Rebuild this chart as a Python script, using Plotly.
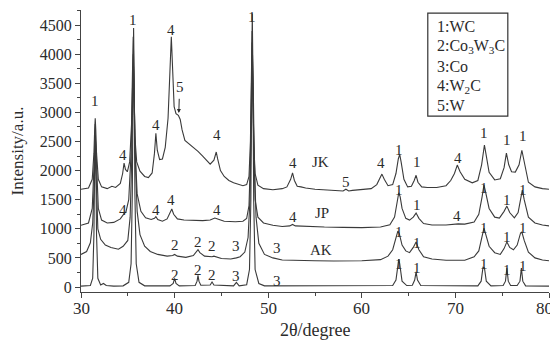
import plotly.graph_objects as go

# ---------------- data ----------------
base_x = [30, 31.0, 31.25, 31.38, 31.46, 31.52, 31.58, 31.66, 31.8, 32.1, 32.4, 32.7, 33.5, 34.5, 35.1, 35.35, 35.48,
          35.56, 35.62, 35.68, 35.76, 35.9, 36.2, 36.8, 39.5, 39.85, 40.0, 40.15, 40.5, 42.2, 42.4, 42.5, 42.6, 42.8,
          43.8, 44.0, 44.2, 46.3, 46.6, 46.9, 47.7, 48.0, 48.15, 48.24, 48.3, 48.36, 48.45, 48.6, 49.0, 49.6, 60,
          63.3, 63.65, 63.85, 63.95, 64.05, 64.3, 64.8, 65.4, 65.65, 65.8, 65.95, 66.3, 72.4, 72.75, 72.95, 73.1,
          73.3, 73.8, 75.1, 75.35, 75.5, 75.65, 75.9, 76.6, 76.9, 77.05, 77.2, 77.5, 80]
base_y = [15, 25, 150, 900, 2200, 2800, 2200, 900, 150, 35, 60, 25, 15, 20, 80, 400, 1600,
          3600, 4450, 3600, 1600, 400, 80, 20, 20, 60, 150, 60, 20, 25, 100, 200, 100, 30,
          35, 85, 35, 20, 80, 20, 40, 300, 1500, 3800, 4700, 3800, 1500, 300, 60, 20, 15,
          25, 120, 400, 480, 400, 100, 25, 30, 120, 260, 120, 25, 20, 100, 340, 330,
          100, 20, 25, 100, 325, 100, 25, 25, 100, 325, 100, 20, 15]

ak_x = [30, 30.6, 31.0, 31.25, 31.4, 31.47, 31.52, 31.58, 31.66, 31.8, 32.1, 32.6, 33.2, 34.0, 34.5, 35.0, 35.25,
        35.42, 35.52, 35.6, 35.68, 35.8, 36.0, 36.3, 36.8, 37.4, 38.2, 39.2, 39.8, 40.0, 40.3, 41.2, 42.0, 42.35,
        42.5, 42.7, 43.2, 44.0, 44.2, 45, 46.0, 46.6, 47.0, 47.5, 47.85, 48.05, 48.17, 48.26, 48.32, 48.4, 48.5,
        48.7, 49.0, 49.6, 50.5, 51.5, 53, 55, 57, 60, 62, 62.8, 63.3, 63.6, 63.85, 64.0, 64.3, 64.7, 65.1, 65.5,
        65.8, 66.1, 66.6, 67.5, 69, 71, 72, 72.5, 72.85, 73.05, 73.25, 73.6, 74.2, 74.8, 75.2, 75.5, 75.8, 76.2,
        76.6, 76.95, 77.1, 77.35, 77.8, 78.5, 79.3, 80]
ak_y = [560, 610, 760, 1100, 1700, 2100, 2300, 2100, 1600, 1000, 820, 720, 680, 650, 700, 800, 1200,
        2200, 3300, 3800, 3300, 2200, 1300, 900, 700, 610, 560, 530, 540, 560, 530, 510, 540, 600,
        640, 590, 530, 520, 530, 490, 480, 500, 520, 600, 850, 1500, 2600, 3700, 4000, 3500, 2300,
        1200, 750, 560, 500, 465, 455, 450, 448, 450, 470, 530, 640, 800, 960, 920, 720, 620, 590, 680,
        775, 640, 520, 480, 460, 460, 520, 620, 850, 1010, 900, 700, 590, 560, 660, 775, 680, 640,
        720, 920, 945, 800, 600, 500, 465, 450]

jp_x = [30, 30.8, 31.2, 31.38, 31.46, 31.52, 31.58, 31.66, 31.85, 32.2, 32.8, 33.5, 34.2, 34.6, 34.8, 35.1, 35.35,
        35.5, 35.58, 35.66, 35.8, 36.0, 36.4, 36.9, 37.5, 37.85, 38.0, 38.2, 38.7, 39.2, 39.5, 39.7, 39.9, 40.3,
        41, 42, 43, 43.8, 44.3, 44.6, 45.3, 46.5, 47.3, 47.7, 47.95, 48.1, 48.2, 48.28, 48.36, 48.46, 48.6, 48.9,
        49.5, 50.5, 51.5, 52.3, 52.6, 52.9, 54, 56, 58, 60, 62, 63, 63.5, 63.8, 63.95, 64.1, 64.3, 64.7, 65.1,
        65.5, 65.8, 66.1, 66.6, 67.5, 69, 70.3, 71, 72, 72.5, 72.85, 73.05, 73.2, 73.6, 74.2, 74.7, 75.2, 75.5,
        75.8, 76.3, 76.7, 77.0, 77.15, 77.35, 77.8, 78.5, 79.3, 80]
jp_y = [1060, 1100, 1350, 2000, 2450, 2600, 2450, 2000, 1350, 1150, 1100, 1110, 1170, 1260, 1290, 1500, 2300,
        3400, 4000, 3400, 2300, 1600, 1300, 1190, 1160, 1180, 1210, 1160, 1130, 1170, 1260, 1340, 1250, 1170,
        1150, 1145, 1140, 1150, 1185, 1170, 1130, 1120, 1130, 1180, 1400, 2200, 3300, 4200, 3300, 2200, 1500, 1200,
        1100, 1060, 1040, 1050, 1075, 1050, 1040, 1030, 1025, 1020, 1030, 1070, 1200, 1450, 1620, 1550, 1350, 1180, 1150,
        1200, 1270, 1180, 1090, 1065, 1065, 1085, 1080, 1115, 1250, 1550, 1750, 1650, 1350, 1200, 1185, 1300, 1390,
        1280, 1190, 1280, 1550, 1665, 1500, 1200, 1100, 1065, 1050]

jk_x = [30, 30.8, 31.2, 31.38, 31.46, 31.52, 31.58, 31.66, 31.85, 32.2, 32.8, 33.3, 33.7, 34.2, 34.45, 34.6, 34.75,
        34.95, 35.2, 35.4, 35.5, 35.58, 35.65, 35.75, 35.95, 36.3, 36.8, 37.2, 37.6, 37.85, 38.0, 38.15, 38.4, 38.7,
        39.0, 39.3, 39.5, 39.65, 39.8, 39.95, 40.15, 40.4, 40.6, 40.8, 41.1, 41.5, 42.0, 42.5, 43.0, 43.5, 43.8,
        44.2, 44.45, 44.6, 44.9, 45.3, 45.8, 46.3, 46.8, 47.3, 47.7, 47.95, 48.1, 48.2, 48.28, 48.35, 48.45, 48.6,
        48.9, 49.5, 50.5, 51.5, 52.0, 52.4, 52.6, 52.8, 53.1, 53.5, 54.0, 55.0, 56.0, 57.0, 58.0, 58.3, 58.6, 59.0,
        60.0, 61.0, 61.6, 61.95, 62.15, 62.4, 62.8, 63.3, 63.65, 63.9, 64.05, 64.2, 64.5, 64.9, 65.3, 65.6, 65.8,
        66.0, 66.4, 67.0, 68.0, 69.0, 69.5, 69.9, 70.2, 70.5, 71.0, 71.8, 72.4, 72.8, 73.0, 73.1, 73.25, 73.6,
        74.2, 74.8, 75.2, 75.45, 75.7, 76.0, 76.4, 76.8, 77.1, 77.35, 77.8, 78.5, 79.3, 80]
jk_y = [1680, 1700, 1850, 2300, 2700, 2900, 2700, 2300, 1850, 1720, 1690, 1730, 1710, 1780, 1950, 2130, 2020,
        1980, 2150, 2800, 3700, 4300, 3700, 2600, 2150, 1990, 1900, 1880, 1960, 2300, 2640, 2350, 2190, 2200,
        2400, 2900, 3700, 4300, 3700, 3100, 2980, 2950, 2880, 2700, 2520, 2470, 2400, 2330, 2250, 2150, 2110,
        2180, 2320, 2200, 2000, 1900, 1830, 1790, 1760, 1740, 1760, 1900, 2500, 3500, 4400, 3500, 2500, 1950,
        1750, 1690, 1670, 1690, 1720, 1850, 1960, 1830, 1730, 1720, 1700, 1680, 1670, 1660, 1650, 1680, 1650, 1660,
        1675, 1690, 1760, 1880, 1940, 1850, 1740, 1760, 1950, 2200, 2280, 2150, 1850, 1720, 1730, 1830, 1920,
        1800, 1720, 1710, 1710, 1740, 1830, 1950, 2095, 1980, 1850, 1790, 1830, 2100, 2350, 2440, 2300, 1970,
        1840, 1860, 2050, 2300, 2100, 1980, 1975, 2100, 2350, 2150, 1800, 1720, 1690, 1680]

# peak / sample labels: (text, 2theta, intensity)
label_text = ["1", "4", "1", "4", "4", "5", "4", "1", "4", "JK", "5", "4", "1", "1", "4", "1", "1", "1",
              "4", "4", "4", "4", "4", "JP", "1", "1", "4", "1", "1", "1",
              "2", "2", "2", "3", "3", "AK", "1", "1", "1", "1", "1",
              "2", "2", "2", "3", "3", "1", "1", "1", "1", "1"]
label_x = [31.5, 34.45, 35.6, 38.0, 39.6, 40.6, 44.5, 48.3, 52.6, 55.6, 58.3, 62.1, 64.0, 65.85, 70.3, 73.05, 75.5, 77.2,
           34.5, 38.0, 39.6, 44.5, 52.6, 55.7, 64.0, 65.9, 70.2, 73.1, 75.5, 77.2,
           40.0, 42.5, 44.0, 46.6, 50.9, 55.6, 64.0, 65.9, 73.1, 75.5, 77.2,
           40.0, 42.5, 44.0, 46.6, 50.9, 64.0, 65.9, 73.1, 75.5, 77.2]
label_y = [3195, 2268, 4587, 2783, 4415, 3436, 2611, 4640, 2130, 2148, 1804, 2130, 2354, 2148, 2216, 2646, 2525, 2594,
           1323, 1323, 1495, 1323, 1203, 1271, 1666, 1409, 1220, 1700, 1495, 1666,
           722, 773, 704, 704, 670, 636, 945, 756, 1014, 859, 1014,
           206, 292, 206, 189, 103, 395, 326, 395, 292, 360]

phase_labels = ["1:WC", "2:Co<sub>3</sub>W<sub>3</sub>C", "3:Co", "4:W<sub>2</sub>C", "5:W"]

x_ticks = [30, 40, 50, 60, 70, 80]
y_ticks = [0, 500, 1000, 1500, 2000, 2500, 3000, 3500, 4000, 4500]
x_title = "2θ/degree"
y_title = "Intensity/a.u."

# ---------------- figure ----------------
FONT = "Liberation Serif, Times New Roman, serif"
INK = "#2b2b2b"
LINE = "#3a3a3a"

fig = go.Figure()
for xs, ys in [(base_x, base_y), (ak_x, ak_y), (jp_x, jp_y), (jk_x, jk_y)]:
    fig.add_trace(go.Scatter(x=xs, y=ys, mode="lines",
                             line=dict(color=LINE, width=1.1), showlegend=False, hoverinfo="skip"))

anns = []
for t, x, y in zip(label_text, label_x, label_y):
    anns.append(dict(x=x, y=y, xref="x", yref="y", text=t, showarrow=False,
                     font=dict(family=FONT, size=15, color=INK)))
# arrow under the "5" label near 40 degrees
anns.append(dict(x=40.45, y=2990, xref="x", yref="y", ax=40.5, ay=3260, axref="x", ayref="y",
                 text="", showarrow=True, arrowhead=2, arrowsize=0.8, arrowwidth=1, arrowcolor=INK))

# x tick labels placed just under the axis (closer than plotly's default gap)
for i, v in enumerate(x_ticks):
    last = i == len(x_ticks) - 1
    anns.append(dict(x=v, y=0, xref="x", yref="paper", text=str(v), showarrow=False,
                     yanchor="middle", yshift=-16, xshift=-5 if last else 0,
                     font=dict(family=FONT, size=17, color=INK)))
anns.append(dict(x=0.5, y=0, xref="paper", yref="paper", text=x_title, showarrow=False,
                 yanchor="middle", yshift=-38, font=dict(family=FONT, size=18, color=INK)))

# phase legend box
box_x0, box_x1, box_y0, box_y1 = 0.741, 0.912, 0.624, 0.989
legend_y = [0.94, 0.869, 0.798, 0.730, 0.660]
for t, yy in zip(phase_labels, legend_y):
    anns.append(dict(x=0.757, y=yy, xref="paper", yref="paper", text=t, showarrow=False,
                     xanchor="left", yanchor="middle", font=dict(family=FONT, size=16, color=INK)))

# the page body adds an 8px offset, so the figure is 8px smaller and margins shifted
fig.update_layout(
    width=550, height=338,
    margin=dict(l=73, r=9, t=2, b=54),
    paper_bgcolor="white", plot_bgcolor="white",
    font=dict(family=FONT, size=16, color=INK),
    annotations=anns,
    shapes=[dict(type="rect", xref="paper", yref="paper", x0=box_x0, x1=box_x1, y0=box_y0, y1=box_y1,
                 line=dict(color="#333333", width=1.2), fillcolor="rgba(0,0,0,0)")],
    xaxis=dict(range=[30, 80], tickvals=x_ticks, showticklabels=False,
               showline=True, linecolor="#444", linewidth=1, ticks="outside", ticklen=5, tickcolor="#444",
               minor=dict(dtick=5, ticks="outside", ticklen=3, tickcolor="#444"),
               showgrid=False, zeroline=False),
    yaxis=dict(range=[-86, 4760], tickvals=y_ticks, ticktext=[str(v) for v in y_ticks],
               showline=True, linecolor="#444", linewidth=1, ticks="outside", ticklen=5, tickcolor="#444",
               minor=dict(dtick=250, ticks="outside", ticklen=3, tickcolor="#444"),
               showgrid=False, zeroline=False,
               tickfont=dict(family=FONT, size=16, color=INK),
               title=dict(text=y_title, font=dict(family=FONT, size=17, color=INK), standoff=11)),
)

fig.write_html("out.html")
